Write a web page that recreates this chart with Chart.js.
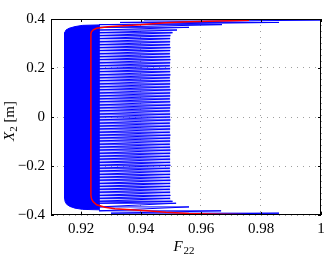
<!DOCTYPE html>
<html>
<head>
<meta charset="utf-8">
<script src="https://cdn.jsdelivr.net/npm/chart.js@4.4.0/dist/chart.umd.min.js"></script>
<style>
  html, body { margin: 0; padding: 0; background: #fff; }
</style>
</head>
<body>
<canvas id="forceChart" width="332" height="263"></canvas>
<script>
// axis ticks
const xTicks = [0.92, 0.94, 0.96, 0.98, 1];
const yTicks = [-0.4, -0.2, 0, 0.2, 0.4];

// blue trace: one sweep per row (left turn, right turn, height)
const blueY = [
  0.396, 0.386, 0.377, 0.366, 0.355, 0.344,
  0.332, 0.320, 0.307, 0.295, 0.283, 0.271, 0.258, 0.246, 0.234, 0.221, 0.209,
  0.197, 0.185, 0.172, 0.160, 0.148, 0.135, 0.123, 0.111, 0.098, 0.086, 0.074,
  0.062, 0.049, 0.037, 0.025, 0.012, 0.000, -0.012, -0.025, -0.037, -0.049, -0.062,
  -0.074, -0.086, -0.098, -0.111, -0.123, -0.135, -0.148, -0.160, -0.172, -0.185, -0.197,
  -0.209, -0.221, -0.234, -0.246, -0.258, -0.271, -0.283, -0.295, -0.307, -0.320, -0.332,
  -0.344, -0.352, -0.367, -0.383, -0.3925, -0.3995
];
const blueLo = [
  0.941, 0.933, 0.926, 0.926, 0.926, 0.926,
  0.926, 0.926, 0.926, 0.926, 0.926, 0.926, 0.926, 0.926, 0.926, 0.926, 0.926,
  0.926, 0.926, 0.926, 0.926, 0.926, 0.926, 0.926, 0.926, 0.926, 0.926, 0.926,
  0.926, 0.926, 0.926, 0.926, 0.926, 0.926, 0.926, 0.926, 0.926, 0.926, 0.926,
  0.926, 0.926, 0.926, 0.926, 0.926, 0.926, 0.926, 0.926, 0.926, 0.926, 0.926,
  0.926, 0.926, 0.926, 0.926, 0.926, 0.926, 0.926, 0.926, 0.926, 0.926, 0.926,
  0.926, 0.926, 0.926, 0.926, 0.930, 0.940
];
const blueHi = [
  1.0, 0.986, 0.967, 0.956, 0.952, 0.9505,
  0.9498, 0.9497, 0.9497, 0.9496, 0.9498, 0.9497, 0.9496, 0.9497, 0.9498, 0.9497, 0.9496,
  0.9497, 0.9497, 0.9498, 0.9496, 0.9497, 0.9497, 0.9496, 0.9498, 0.9497, 0.9497, 0.9496,
  0.9497, 0.9498, 0.9497, 0.9496, 0.9497, 0.9497, 0.9498, 0.9496, 0.9497, 0.9497, 0.9496,
  0.9498, 0.9497, 0.9497, 0.9496, 0.9497, 0.9498, 0.9497, 0.9496, 0.9497, 0.9497, 0.9498,
  0.9496, 0.9497, 0.9497, 0.9496, 0.9498, 0.9497, 0.9497, 0.9496, 0.9497, 0.9498, 0.9497,
  0.9505, 0.9517, 0.956, 0.9667, 0.986, 1.0
];

// dense band outline on the left
const coreX = [0.9263, 0.9205, 0.918, 0.916, 0.915, 0.9146, 0.9145, 0.9145, 0.9147, 0.9152, 0.9163, 0.918, 0.9205, 0.9263];
const coreY = [0.376, 0.374, 0.369, 0.362, 0.355, 0.345, 0.33, -0.33, -0.345, -0.356, -0.365, -0.372, -0.377, -0.379];

// pale wash between the sweeps
const hazeX = [0.926, 0.9505, 0.9497, 0.9497, 0.9505, 0.926];
const hazeY = [0.35, 0.35, 0.335, -0.335, -0.35, -0.35];

// red curve
const redX = [0.976, 0.966, 0.956, 0.9483, 0.942, 0.9313, 0.928, 0.9252, 0.924, 0.9235, 0.9233,
  0.9233, 0.9235, 0.9241, 0.9252, 0.929, 0.9397, 0.9483, 0.956, 0.966, 0.976];
const redY = [-0.399, -0.397, -0.394, -0.389, -0.383, -0.374, -0.368, -0.358, -0.345, -0.334, -0.32,
  0.34, 0.348, 0.356, 0.362, 0.3685, 0.377, 0.385, 0.389, 0.392, 0.395];

const SERIF = '"Liberation Serif", "DejaVu Serif", serif';

// build point lists
const bluePts = [];
blueY.forEach((y, i) => {
  bluePts.push({ x: blueLo[i], y: y });
  bluePts.push({ x: blueHi[i], y: y });
});
const corePts = coreX.map((x, i) => ({ x: x, y: coreY[i] }));
const hazePts = hazeX.map((x, i) => ({ x: x, y: hazeY[i] }));
const redPts = redX.map((x, i) => ({ x: x, y: redY[i] }));

const fmt = (v) => (v < 0 ? "\u2212" : "") + String(Math.abs(v));

// box, inward ticks and axis titles
const framePlugin = {
  id: "framePlugin",
  afterDraw(chart) {
    const { ctx, chartArea: a } = chart;
    const xs = chart.scales.x;
    const ys = chart.scales.y;
    ctx.save();
    ctx.strokeStyle = "#000";
    ctx.lineWidth = 1;
    ctx.strokeRect(a.left + 0.5, a.top + 0.5, a.right - a.left - 1, a.bottom - a.top - 1);

    ctx.beginPath();
    xTicks.forEach((v) => {
      const px = Math.round(xs.getPixelForValue(v)) + 0.5;
      ctx.moveTo(px, a.bottom); ctx.lineTo(px, a.bottom - 3);
      ctx.moveTo(px, a.top); ctx.lineTo(px, a.top + 3);
    });
    yTicks.forEach((v) => {
      const py = Math.round(ys.getPixelForValue(v)) + 0.5;
      ctx.moveTo(a.left, py); ctx.lineTo(a.left + 3, py);
      ctx.moveTo(a.right, py); ctx.lineTo(a.right - 3, py);
    });
    ctx.stroke();

    ctx.fillStyle = "#000";
    ctx.textBaseline = "alphabetic";
    ctx.textAlign = "left";

    // x title: F_22
    ctx.font = "italic 15px " + SERIF;
    const wF = ctx.measureText("F").width;
    ctx.font = "11px " + SERIF;
    const w22 = ctx.measureText("22").width;
    let x0 = 184 - (wF + w22 + 1) / 2;
    ctx.font = "italic 15px " + SERIF;
    ctx.fillText("F", x0, 250.5);
    ctx.font = "11px " + SERIF;
    ctx.fillText("22", x0 + wF + 1, 253.5);

    // y title: X_2 [m]
    ctx.translate(14, 121);
    ctx.rotate(-Math.PI / 2);
    ctx.font = "italic 15px " + SERIF;
    const wX = ctx.measureText("X").width;
    ctx.font = "11px " + SERIF;
    const w2 = ctx.measureText("2").width;
    ctx.font = "15px " + SERIF;
    const wm = ctx.measureText(" [m]").width;
    let y0 = -(wX + w2 + wm) / 2;
    ctx.font = "italic 15px " + SERIF;
    ctx.fillText("X", y0, 0);
    ctx.font = "11px " + SERIF;
    ctx.fillText("2", y0 + wX, 3);
    ctx.font = "15px " + SERIF;
    ctx.fillText(" [m]", y0 + wX + w2, 0);
    ctx.restore();
  },
};

const ctx = document.getElementById("forceChart").getContext("2d");
new Chart(ctx, {
  type: "scatter",
  data: {
    datasets: [
      {
        label: "mean",
        data: redPts,
        showLine: true,
        borderColor: "#ff0000",
        borderWidth: 1.5,
        pointRadius: 0,
        order: 0,
      },
      {
        label: "trace",
        data: bluePts,
        showLine: true,
        borderColor: "#0000ff",
        borderWidth: 1,
        pointRadius: 0,
        order: 1,
      },
      {
        label: "haze",
        data: hazePts,
        showLine: true,
        borderWidth: 0,
        borderColor: "rgba(0,0,0,0)",
        backgroundColor: "rgba(60,60,255,0.28)",
        fill: "shape",
        pointRadius: 0,
        order: 2,
      },
      {
        label: "band",
        data: corePts,
        showLine: true,
        borderColor: "#0000ff",
        borderWidth: 1,
        backgroundColor: "#0000ff",
        fill: "shape",
        pointRadius: 0,
        order: 3,
      },
    ],
  },
  options: {
    responsive: false,
    animation: false,
    layout: { padding: { left: 0, right: 11, top: 19, bottom: 0 } },
    plugins: {
      legend: { display: false },
      tooltip: { enabled: false },
    },
    scales: {
      x: {
        type: "linear",
        min: 0.91,
        max: 1,
        afterBuildTicks: (scale) => {
          scale.ticks = xTicks.map((v) => ({ value: v }));
        },
        afterFit: (scale) => {
          scale.height = 48;
        },
        grid: { color: "rgba(0,0,0,0.38)", lineWidth: 1, drawTicks: false },
        border: { display: false, dash: [1, 5] },
        ticks: {
          color: "#000",
          padding: 5,
          maxRotation: 0,
          font: { family: SERIF, size: 15 },
          callback: (v) => fmt(v),
        },
      },
      y: {
        type: "linear",
        min: -0.4,
        max: 0.4,
        afterBuildTicks: (scale) => {
          scale.ticks = yTicks.map((v) => ({ value: v }));
        },
        afterFit: (scale) => {
          scale.width = 51;
        },
        grid: { color: "rgba(0,0,0,0.38)", lineWidth: 1, drawTicks: false },
        border: { display: false, dash: [1, 5] },
        ticks: {
          color: "#000",
          padding: 6,
          font: { family: SERIF, size: 15 },
          callback: (v) => fmt(v),
        },
      },
    },
  },
  plugins: [framePlugin],
});
</script>
</body>
</html>
